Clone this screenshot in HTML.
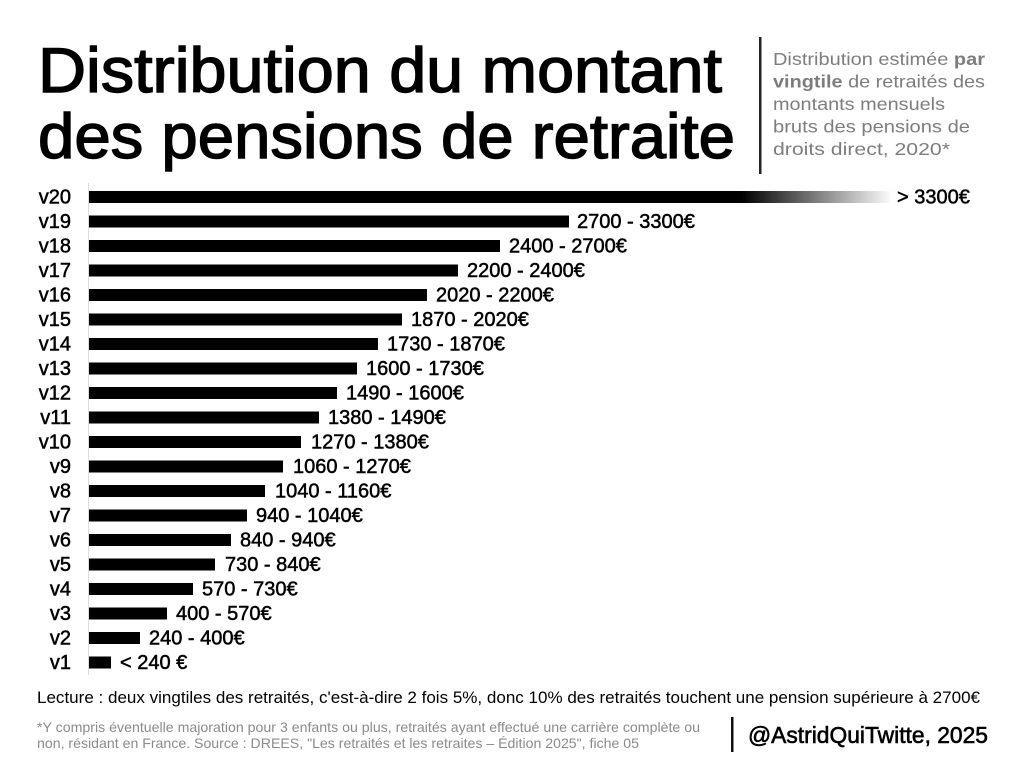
<!DOCTYPE html>
<html><head><meta charset="utf-8"><style>
html,body{margin:0;padding:0;background:#fff;}
svg{display:block;}
text{font-family:"Liberation Sans",Arial,sans-serif;}
.t{font-size:63px;fill:#000;stroke:#000;stroke-width:1.4;}
.s{font-size:17.5px;fill:#7d7d7d;}
.v{font-size:20px;fill:#000;stroke:#000;stroke-width:0.5;}
.r{font-size:20px;fill:#000;stroke:#000;stroke-width:0.5;}
</style></head><body>
<svg width="1024" height="771" viewBox="0 0 1024 771" xmlns="http://www.w3.org/2000/svg">
<defs>
<linearGradient id="g" x1="89" y1="0" x2="890" y2="0" gradientUnits="userSpaceOnUse">
<stop offset="0" stop-color="#000"/>
<stop offset="0.815" stop-color="#000"/>
<stop offset="1" stop-color="#fafafa"/>
</linearGradient>
</defs>
<rect width="1024" height="771" fill="#fff"/>
<text class="t" x="38" y="92" textLength="684" lengthAdjust="spacingAndGlyphs">Distribution du montant</text>
<text class="t" x="38" y="158" textLength="697" lengthAdjust="spacingAndGlyphs">des pensions de retraite</text>
<rect x="759" y="37" width="2.5" height="137" fill="#222"/>
<text class="s" x="773" y="65" textLength="212" lengthAdjust="spacingAndGlyphs">Distribution estimée <tspan font-weight="bold">par</tspan></text>
<text class="s" x="773" y="87.5" textLength="212" lengthAdjust="spacingAndGlyphs"><tspan font-weight="bold">vingtile</tspan> de retraités des</text>
<text class="s" x="773" y="110" textLength="172" lengthAdjust="spacingAndGlyphs">montants mensuels</text>
<text class="s" x="773" y="132.5" textLength="197" lengthAdjust="spacingAndGlyphs">bruts des pensions de</text>
<text class="s" x="773" y="155" textLength="177" lengthAdjust="spacingAndGlyphs">droits direct, 2020*</text>

<rect x="88" y="183" width="1" height="492" fill="#dcdcdc"/>

<g>
<rect x="89" y="191" width="801" height="12" fill="url(#g)"/>
<rect x="89" y="215.5" width="480" height="12"/>
<rect x="89" y="240" width="411" height="12"/>
<rect x="89" y="264.5" width="369" height="12"/>
<rect x="89" y="289" width="338" height="12"/>
<rect x="89" y="313.5" width="313" height="12"/>
<rect x="89" y="338" width="289" height="12"/>
<rect x="89" y="362.5" width="268" height="12"/>
<rect x="89" y="387" width="248" height="12"/>
<rect x="89" y="411.5" width="230" height="12"/>
<rect x="89" y="436" width="212" height="12"/>
<rect x="89" y="460.5" width="194" height="12"/>
<rect x="89" y="485" width="176" height="12"/>
<rect x="89" y="509.5" width="158" height="12"/>
<rect x="89" y="534" width="142" height="12"/>
<rect x="89" y="558.5" width="126" height="12"/>
<rect x="89" y="583" width="104" height="12"/>
<rect x="89" y="607.5" width="78" height="12"/>
<rect x="89" y="632" width="51" height="12"/>
<rect x="89" y="656.5" width="22" height="12"/>
</g>

<g class="v" text-anchor="end">
<text class="v" x="71" y="203.5">v20</text>
<text class="v" x="71" y="228">v19</text>
<text class="v" x="71" y="252.5">v18</text>
<text class="v" x="71" y="277">v17</text>
<text class="v" x="71" y="301.5">v16</text>
<text class="v" x="71" y="326">v15</text>
<text class="v" x="71" y="350.5">v14</text>
<text class="v" x="71" y="375">v13</text>
<text class="v" x="71" y="399.5">v12</text>
<text class="v" x="71" y="424">v11</text>
<text class="v" x="71" y="448.5">v10</text>
<text class="v" x="71" y="473">v9</text>
<text class="v" x="71" y="497.5">v8</text>
<text class="v" x="71" y="522">v7</text>
<text class="v" x="71" y="546.5">v6</text>
<text class="v" x="71" y="571">v5</text>
<text class="v" x="71" y="595.5">v4</text>
<text class="v" x="71" y="620">v3</text>
<text class="v" x="71" y="644.5">v2</text>
<text class="v" x="71" y="669">v1</text>
</g>

<g>
<text class="r" x="897" y="203.5">&gt; 3300€</text>
<text class="r" x="577" y="228">2700 - 3300€</text>
<text class="r" x="509" y="252.5">2400 - 2700€</text>
<text class="r" x="467" y="277">2200 - 2400€</text>
<text class="r" x="436" y="301.5">2020 - 2200€</text>
<text class="r" x="411" y="326">1870 - 2020€</text>
<text class="r" x="387" y="350.5">1730 - 1870€</text>
<text class="r" x="366" y="375">1600 - 1730€</text>
<text class="r" x="346" y="399.5">1490 - 1600€</text>
<text class="r" x="328" y="424">1380 - 1490€</text>
<text class="r" x="311" y="448.5">1270 - 1380€</text>
<text class="r" x="293" y="473">1060 - 1270€</text>
<text class="r" x="275" y="497.5">1040 - 1160€</text>
<text class="r" x="256" y="522">940 - 1040€</text>
<text class="r" x="240" y="546.5">840 - 940€</text>
<text class="r" x="225" y="571">730 - 840€</text>
<text class="r" x="202" y="595.5">570 - 730€</text>
<text class="r" x="176" y="620">400 - 570€</text>
<text class="r" x="149" y="644.5">240 - 400€</text>
<text class="r" x="120" y="669">&lt; 240 €</text>
</g>

<text x="37" y="703" font-size="16.5" fill="#000" textLength="943" lengthAdjust="spacingAndGlyphs">Lecture : deux vingtiles des retraités, c'est-à-dire 2 fois 5%, donc 10% des retraités touchent une pension supérieure à 2700€</text>
<text x="37" y="732" font-size="14" fill="#8a8a8a" textLength="663" lengthAdjust="spacingAndGlyphs">*Y compris éventuelle majoration pour 3 enfants ou plus, retraités ayant effectué une carrière complète ou</text>
<text x="37" y="748" font-size="14" fill="#8a8a8a" textLength="602" lengthAdjust="spacingAndGlyphs">non, résidant en France. Source : DREES, "Les retraités et les retraites – Édition 2025", fiche 05</text>
<rect x="731" y="717" width="2.5" height="35" fill="#111"/>
<text x="748" y="743" font-size="23" fill="#000" stroke="#000" stroke-width="0.6" textLength="240" lengthAdjust="spacingAndGlyphs">@AstridQuiTwitte, 2025</text>
</svg>
</body></html>
